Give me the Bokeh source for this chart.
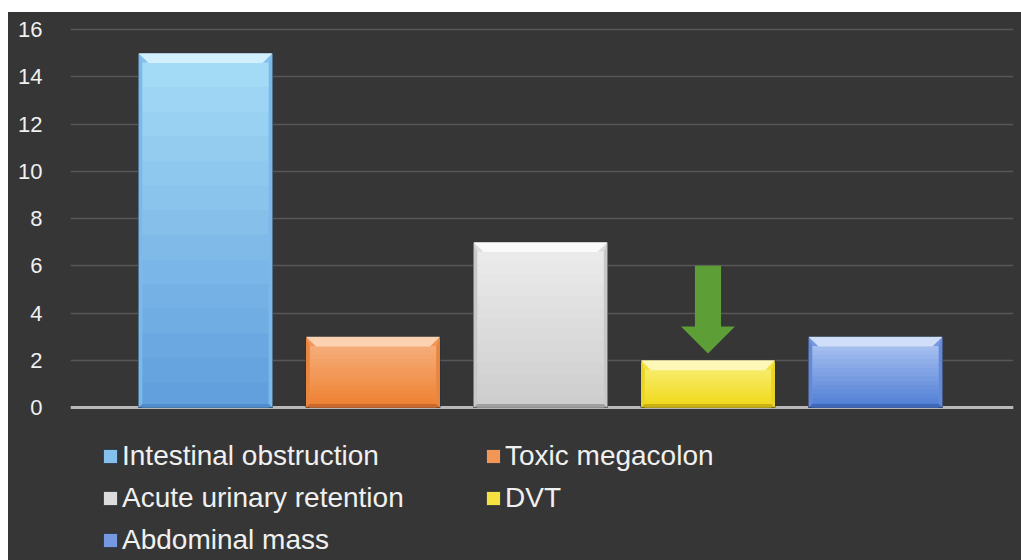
from bokeh.plotting import figure
from bokeh.models import Range1d, FixedTicker, Legend, LegendItem, Span
from bokeh.embed import file_html
from bokeh.resources import INLINE

# ---- data ----
categories = ["Intestinal obstruction", "Toxic megacolon", "Acute urinary retention", "DVT", "Abdominal mass"]
values = [15, 3, 7, 2, 3]
y_ticks = [0, 2, 4, 6, 8, 10, 12, 14, 16]
legend_col1 = ["Intestinal obstruction", "Acute urinary retention", "Abdominal mass"]
legend_col2 = ["Toxic megacolon", "DVT"]
arrow_category = "DVT"

# ---- styles ----
grad_top = ["#a6dcf7", "#f5ad7a", "#ebebeb", "#f8ec6a", "#a6bff0"]
grad_bottom = ["#5e9ddc", "#ee8030", "#cdcdcd", "#f0d818", "#4f7ed4"]
main_colors = ["#84c0ec", "#f29656", "#dcdcdc", "#f5e240", "#7598e0"]
top_colors = ["#d2effd", "#fbd2b2", "#fafafa", "#fdf7b8", "#d0defa"]
side_colors = ["#7db8ea", "#e8853f", "#c8c8c8", "#ead424", "#6589d6"]
bottom_colors = ["#4f8ccc", "#c9692d", "#a0a0a0", "#c8b015", "#3f68b8"]
bar_width = 0.8
bg = "#363636"

def mix(c1, c2, t):
    a = [int(c1[k:k + 2], 16) for k in (1, 3, 5)]
    b = [int(c2[k:k + 2], 16) for k in (1, 3, 5)]
    return "#%02x%02x%02x" % tuple(round(a[j] + (b[j] - a[j]) * t) for j in range(3))

p = figure(width=1013, height=548, output_backend="svg", toolbar_location=None,
           x_range=Range1d(-0.806, 4.824), y_range=Range1d(-6.476, 16.212),
           x_axis_location=None, min_border_left=62, min_border_right=8,
           min_border_top=12, min_border_bottom=0)
p.margin = (12, 0, 0, 8)
p.styles = {"background-color": bg}
p.background_fill_color = bg
p.border_fill_color = bg
p.outline_line_color = None

p.xgrid.visible = False
p.ygrid.ticker = FixedTicker(ticks=y_ticks)
p.ygrid.grid_line_color = "#575757"
p.ygrid.grid_line_width = 1.5

p.yaxis.ticker = FixedTicker(ticks=y_ticks)
p.yaxis.axis_line_color = None
p.yaxis.major_tick_line_color = None
p.yaxis.minor_tick_line_color = None
p.yaxis.major_label_standoff = 22
p.yaxis.major_label_text_font = "Liberation Sans"
p.yaxis.major_label_text_font_size = "22px"
p.yaxis.major_label_text_color = "#f0f0f0"

baseline = Span(location=0, dimension="width", line_color="#b8b8b8", line_width=3, level="underlay")
p.add_layout(baseline)

xs = list(range(len(categories)))
renderers = {}
n_slices = 14
for i, (cat, v) in enumerate(zip(categories, values)):
    x = xs[i]
    r = p.vbar(x=[x], top=[v], bottom=[0], width=bar_width, fill_color=main_colors[i],
               line_color="#2a3038", line_width=1)
    renderers[cat] = r
    hw = bar_width / 2
    dx = 0.06
    dy = 0.42
    sdx = 0.022
    bdy = 0.15
    # vertical gradient body
    tops, bots, cols = [], [], []
    for k in range(n_slices):
        t0 = v - dy - (v - dy) * k / n_slices
        t1 = v - dy - (v - dy) * (k + 1) / n_slices
        tops.append(t0 + 0.02)
        bots.append(t1)
        cols.append(mix(grad_top[i], grad_bottom[i], (k + 0.5) / n_slices))
    p.vbar(x=[x] * n_slices, top=tops, bottom=bots, width=bar_width - 2 * sdx,
           fill_color=cols, line_color=None)
    # side bevels
    p.patches(xs=[[x - hw, x - hw, x - hw + sdx, x - hw + sdx],
                  [x + hw, x + hw, x + hw - sdx, x + hw - sdx]],
              ys=[[0, v, v - dy, bdy], [0, v, v - dy, bdy]],
              fill_color=side_colors[i], line_color=None)
    # bottom bevel
    p.patches(xs=[[x - hw, x + hw, x + hw - sdx, x - hw + sdx]],
              ys=[[0, 0, bdy, bdy]], fill_color=bottom_colors[i], line_color=None)
    # top bevel
    p.patches(xs=[[x - hw, x + hw, x + hw - dx, x - hw + dx]],
              ys=[[v, v, v - dy, v - dy]], fill_color=top_colors[i], line_color=None)

# green arrow pointing at the DVT bar
ai = categories.index(arrow_category)
ax = xs[ai]
tip = values[ai] + 0.29
head_base = tip + 1.14
shaft_top = tip + 3.71
sw = 0.078
hwid = 0.161
p.patch(x=[ax - sw, ax + sw, ax + sw, ax + hwid, ax, ax - hwid, ax - sw],
        y=[shaft_top, shaft_top, head_base, head_base, tip, head_base, head_base],
        fill_color="#5d9e37", line_color=None)

def make_legend(labels, loc):
    items = [LegendItem(label=lab, renderers=[renderers[lab]]) for lab in labels]
    lg = Legend(items=items, location=loc, orientation="vertical",
                background_fill_alpha=0, border_line_color=None,
                padding=0, margin=0, spacing=10, glyph_width=18, glyph_height=18,
                label_height=32, label_standoff=3,
                label_text_font="Liberation Sans", label_text_font_size="28px",
                label_text_color="#f0f0f0")
    return lg

p.add_layout(make_legend(legend_col1, (31, 4.5)))
p.add_layout(make_legend(legend_col2, (414, 46.5)))

open("out.html", "w").write(file_html(p, INLINE))
